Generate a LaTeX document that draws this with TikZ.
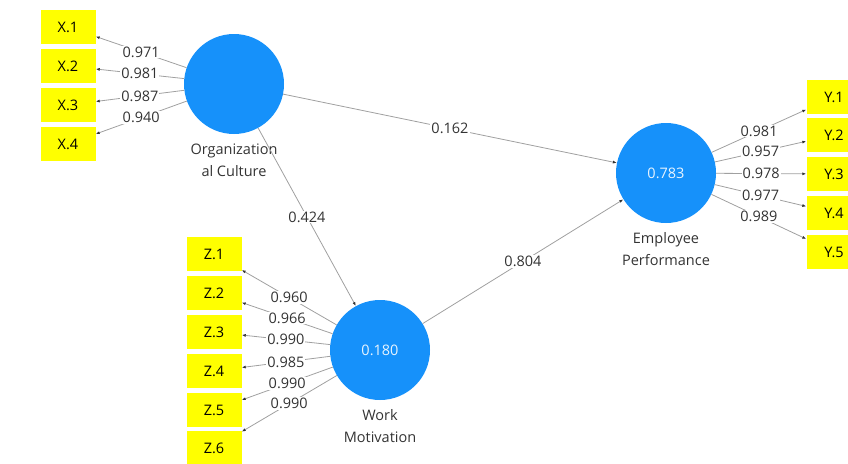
\documentclass[tikz,border=0pt]{standalone}
\usepackage{fontspec}
\setmainfont{Open Sans}
\usepackage{tikz}
\usetikzlibrary{arrows.meta,positioning}
\definecolor{lvblue}{RGB}{22,145,250}
\definecolor{mvyellow}{RGB}{255,255,0}
\definecolor{pathgray}{RGB}{160,160,160}
\tikzstyle{latent}=[circle,fill=lvblue,minimum size=100pt,inner sep=0pt,text=white!90!lvblue]
\tikzstyle{indicator}=[rectangle,fill=mvyellow,minimum width=55pt,minimum height=34pt,inner sep=0pt]
\tikzstyle{caption}=[align=center,inner sep=2pt,text=black!80,font=\fontsize{14.5}{22}\selectfont]
\tikzstyle{edge}=[draw=pathgray,line width=0.8pt,-{Latex[length=4pt,width=3pt,color=black!80]}]
\tikzstyle{weight}=[fill=white,inner sep=1pt,text=black!80,pos=0.5]

\begin{document}
\begin{tikzpicture}[x=1pt,y=-1pt,font=\fontsize{14.5}{17}\selectfont]
    \useasboundingbox (0,0) rectangle (848,463);
    % First we draw the latent variables
    \node[latent] (OC) at (234,84) {};
    \node[latent] (WM) at (380,350) {0.180};
    \node[latent] (EP) at (666,173) {0.783};
    \node[caption,below=7pt of OC] (OClabel) {Organization\\al Culture};
    \node[caption,below=7pt of WM] (WMlabel) {Work\\Motivation};
    \node[caption,below=7pt of EP] (EPlabel) {Employee\\Performance};

    % Then the indicators
    \foreach \name/\y in {1/27, 2/66, 3/105, 4/144}
        \node[indicator] (X\name) at (68,\y) {X.\name};
    \foreach \name/\y in {1/254, 2/293, 3/332, 4/371, 5/410, 6/448}
        \node[indicator] (Z\name) at (214,\y) {Z.\name};
    \foreach \name/\y in {1/97, 2/135, 3/174, 4/213, 5/252}
        \node[indicator] (Y\name) at (834,\y) {Y.\name};

    % Connect latent variables with their indicators
    \foreach \dest/\w in {X1/0.971, X2/0.981, X3/0.987, X4/0.940}
        \path[edge] (OC) -- node[weight] {\w} (\dest);
    \foreach \dest/\w in {Z1/0.960, Z2/0.966, Z3/0.990, Z4/0.985, Z5/0.990, Z6/0.990}
        \path[edge] (WM) -- node[weight] {\w} (\dest);
    \foreach \dest/\w in {Y1/0.981, Y2/0.957, Y3/0.978, Y4/0.977, Y5/0.989}
        \path[edge] (EP) -- node[weight] {\w} (\dest);

    % Inner model paths
    \foreach \source/\dest/\w in {OC/EP/0.162, OC/WM/0.424, WM/EP/0.804}
        \path[edge] (\source) -- node[weight] {\w} (\dest);
\end{tikzpicture}
\end{document}
